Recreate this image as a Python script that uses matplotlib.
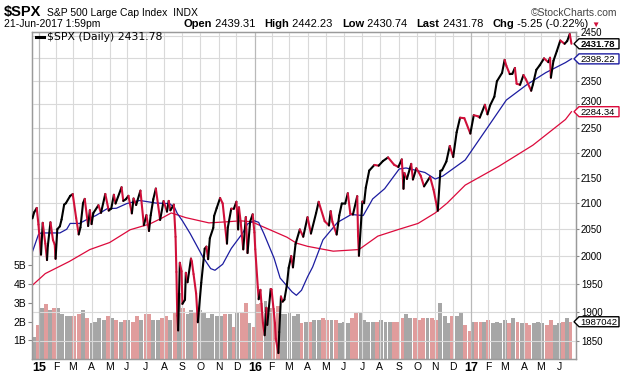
import numpy as np
import pandas as pd
import matplotlib
matplotlib.use("Agg")
import matplotlib.pyplot as plt
from matplotlib.collections import LineCollection
from matplotlib.patches import Polygon
from matplotlib.lines import Line2D
from matplotlib.transforms import IdentityTransform
from matplotlib.ticker import FixedLocator, NullLocator, FuncFormatter

plt.rcParams['font.family'] = ['Liberation Sans', 'DejaVu Sans']

# exchange holidays inside the window (for the trading-day axis)
holidays = ["2014-12-25", "2015-01-01", "2015-01-19", "2015-02-16", "2015-04-03",
            "2015-05-25", "2015-07-03", "2015-09-07", "2015-11-26", "2015-12-25",
            "2016-01-01", "2016-01-18", "2016-02-15", "2016-03-25", "2016-05-30",
            "2016-07-04", "2016-09-05", "2016-11-24", "2016-12-26", "2017-01-02",
            "2017-01-16", "2017-02-20", "2017-04-14", "2017-05-29"]

# $SPX closes (sampled a few times per week)
price_dates = [
    "2014-12-19", "2014-12-23", "2014-12-29", "2014-12-31", "2015-01-06", "2015-01-08",
    "2015-01-13", "2015-01-15", "2015-01-16", "2015-01-22", "2015-01-27", "2015-01-29",
    "2015-01-30", "2015-02-03", "2015-02-06", "2015-02-10", "2015-02-13", "2015-02-18",
    "2015-02-25", "2015-03-02", "2015-03-06", "2015-03-11", "2015-03-13", "2015-03-18",
    "2015-03-20", "2015-03-26", "2015-03-30", "2015-04-01", "2015-04-06", "2015-04-14",
    "2015-04-17", "2015-04-24", "2015-04-30", "2015-05-05", "2015-05-08", "2015-05-12",
    "2015-05-21", "2015-05-26", "2015-05-29", "2015-06-03", "2015-06-09", "2015-06-11",
    "2015-06-16", "2015-06-23", "2015-06-29", "2015-07-02", "2015-07-08", "2015-07-10",
    "2015-07-15", "2015-07-20", "2015-07-27", "2015-07-31", "2015-08-06", "2015-08-10",
    "2015-08-12", "2015-08-18", "2015-08-20", "2015-08-21", "2015-08-24", "2015-08-25",
    "2015-08-27", "2015-08-31", "2015-09-01", "2015-09-04", "2015-09-08", "2015-09-10",
    "2015-09-16", "2015-09-17", "2015-09-21", "2015-09-24", "2015-09-28", "2015-10-02",
    "2015-10-08", "2015-10-12", "2015-10-14", "2015-10-16", "2015-10-22", "2015-10-23",
    "2015-10-28", "2015-11-03", "2015-11-06", "2015-11-13", "2015-11-16", "2015-11-20",
    "2015-11-25", "2015-12-01", "2015-12-03", "2015-12-04", "2015-12-08", "2015-12-11",
    "2015-12-16", "2015-12-18", "2015-12-23", "2015-12-29", "2015-12-31", "2016-01-04",
    "2016-01-07", "2016-01-08", "2016-01-12", "2016-01-15", "2016-01-20", "2016-01-22",
    "2016-01-25", "2016-01-29", "2016-02-01", "2016-02-05", "2016-02-08", "2016-02-11",
    "2016-02-12", "2016-02-17", "2016-02-19", "2016-02-23", "2016-02-26", "2016-03-01",
    "2016-03-04", "2016-03-08", "2016-03-11", "2016-03-18", "2016-03-24", "2016-04-01",
    "2016-04-07", "2016-04-15", "2016-04-20", "2016-04-29", "2016-05-06", "2016-05-10",
    "2016-05-12", "2016-05-19", "2016-05-24", "2016-05-27", "2016-06-03", "2016-06-08",
    "2016-06-13", "2016-06-16", "2016-06-23", "2016-06-24", "2016-06-27", "2016-07-01",
    "2016-07-06", "2016-07-08", "2016-07-14", "2016-07-22", "2016-07-29", "2016-08-05",
    "2016-08-15", "2016-08-24", "2016-08-31", "2016-09-07", "2016-09-09", "2016-09-12",
    "2016-09-15", "2016-09-22", "2016-09-26", "2016-09-30", "2016-10-07", "2016-10-13",
    "2016-10-24", "2016-10-28", "2016-11-04", "2016-11-09", "2016-11-11", "2016-11-18",
    "2016-11-25", "2016-12-01", "2016-12-07", "2016-12-13", "2016-12-20", "2016-12-30",
    "2017-01-06", "2017-01-13", "2017-01-18", "2017-01-26", "2017-01-31", "2017-02-03",
    "2017-02-10", "2017-02-15", "2017-02-24", "2017-03-01", "2017-03-03", "2017-03-09",
    "2017-03-14", "2017-03-17", "2017-03-21", "2017-03-27", "2017-03-31", "2017-04-05",
    "2017-04-13", "2017-04-18", "2017-04-24", "2017-04-28", "2017-05-05", "2017-05-12",
    "2017-05-16", "2017-05-17", "2017-05-22", "2017-05-26", "2017-06-02", "2017-06-09",
    "2017-06-14", "2017-06-19", "2017-06-21"]
price_close = [
    2070.65, 2082.17, 2090.57, 2058.90, 2002.61, 2062.14,
    2023.03, 1992.67, 2019.42, 2063.15, 2029.55, 2021.25,
    1994.99, 2050.03, 2055.47, 2068.59, 2096.99, 2099.68,
    2113.86, 2117.39, 2071.26, 2040.24, 2053.40, 2099.50,
    2108.10, 2056.15, 2086.24, 2059.69, 2080.62, 2095.84,
    2081.18, 2117.69, 2085.51, 2089.46, 2116.10, 2099.12,
    2130.82, 2104.20, 2107.39, 2114.07, 2080.15, 2108.86,
    2096.29, 2124.20, 2057.64, 2076.78, 2046.68, 2076.62,
    2107.40, 2128.28, 2067.64, 2103.84, 2083.56, 2104.18,
    2086.05, 2096.92, 2035.73, 1970.89, 1893.21, 1867.61,
    1987.66, 1972.18, 1913.85, 1921.22, 1969.41, 1952.29,
    1995.31, 1990.20, 1966.97, 1932.24, 1881.77, 1951.36,
    2013.43, 2017.46, 1994.24, 2033.11, 2052.51, 2075.15,
    2090.35, 2109.79, 2099.20, 2023.04, 2053.19, 2089.17,
    2088.87, 2102.63, 2049.62, 2091.69, 2063.59, 2012.37,
    2073.07, 2005.55, 2064.29, 2078.36, 2043.94, 2012.66,
    1943.09, 1922.03, 1938.68, 1880.33, 1859.33, 1906.90,
    1877.08, 1940.24, 1939.38, 1880.05, 1853.44, 1829.08,
    1864.78, 1926.82, 1917.78, 1921.27, 1948.05, 1978.35,
    1999.99, 1979.26, 2022.19, 2049.58, 2035.94, 2072.78,
    2041.91, 2080.73, 2102.40, 2065.30, 2057.14, 2084.39,
    2064.11, 2040.04, 2076.06, 2099.06, 2099.13, 2119.12,
    2079.06, 2077.99, 2113.32, 2037.41, 2000.54, 2102.95,
    2099.73, 2129.90, 2163.75, 2175.03, 2173.60, 2182.87,
    2190.15, 2175.44, 2170.95, 2186.16, 2127.81, 2159.04,
    2147.26, 2177.18, 2146.10, 2168.27, 2153.74, 2132.55,
    2151.33, 2126.41, 2085.18, 2163.26, 2164.45, 2181.90,
    2213.35, 2191.08, 2241.35, 2271.72, 2270.76, 2238.83,
    2276.98, 2274.64, 2271.89, 2298.94, 2278.87, 2297.42,
    2316.10, 2349.25, 2367.34, 2395.96, 2383.12, 2364.87,
    2365.45, 2378.25, 2344.02, 2341.59, 2362.72, 2352.95,
    2328.95, 2342.19, 2374.15, 2384.20, 2399.29, 2390.90,
    2400.67, 2357.03, 2394.02, 2415.82, 2439.07, 2431.77,
    2437.92, 2453.46, 2431.78]

# 50-day moving average
ma50_dates = [
    "2014-12-19", "2014-12-31", "2015-01-06", "2015-02-06", "2015-02-19", "2015-02-25",
    "2015-03-12", "2015-03-24", "2015-04-09", "2015-04-28", "2015-05-13", "2015-06-01",
    "2015-06-22", "2015-07-02", "2015-07-20", "2015-08-11", "2015-08-19", "2015-08-24",
    "2015-09-01", "2015-09-15", "2015-10-06", "2015-10-19", "2015-10-26", "2015-11-06",
    "2015-11-20", "2015-12-10", "2015-12-18", "2015-12-31", "2016-01-08", "2016-01-19",
    "2016-02-04", "2016-02-16", "2016-03-07", "2016-03-14", "2016-03-22", "2016-04-01",
    "2016-04-11", "2016-04-27", "2016-05-20", "2016-06-14", "2016-07-05", "2016-07-15",
    "2016-07-20", "2016-08-09", "2016-09-01", "2016-09-14", "2016-10-14", "2016-11-01",
    "2016-11-14", "2016-12-21", "2017-01-27", "2017-03-03", "2017-04-06", "2017-05-09",
    "2017-06-12", "2017-06-21"]
ma50_vals = [
    2008, 2040, 2043, 2043, 2050, 2061,
    2061, 2068, 2076, 2089, 2090, 2099,
    2105, 2103, 2100, 2099, 2091, 2080,
    2066, 2042, 1998, 1977, 1974, 1985,
    2014, 2042, 2060, 2066, 2063, 2042,
    1996, 1960, 1935, 1929, 1938, 1962,
    1980, 2030, 2063, 2078, 2076, 2099,
    2108, 2128, 2167, 2169, 2160, 2147,
    2153, 2185, 2246, 2309, 2342, 2368,
    2390, 2398.22]

# 200-day moving average
ma200_dates = [
    "2014-12-19", "2015-01-13", "2015-02-24", "2015-03-30", "2015-05-01", "2015-06-05",
    "2015-07-09", "2015-07-30", "2015-08-13", "2015-09-08", "2015-10-15", "2015-11-12",
    "2015-12-08", "2015-12-28", "2016-01-19", "2016-02-26", "2016-03-14", "2016-04-01",
    "2016-05-13", "2016-06-27", "2016-07-28", "2016-09-01", "2016-10-04", "2016-11-01",
    "2016-11-21", "2016-12-21", "2017-02-17", "2017-04-18", "2017-06-12", "2017-06-21"]
ma200_vals = [
    1947, 1968, 1990, 2012, 2025, 2049,
    2060, 2072, 2081, 2072, 2062, 2064,
    2066, 2064, 2054, 2035, 2024, 2018,
    2009, 2012, 2037, 2050, 2061, 2081,
    2100, 2135, 2172, 2215, 2268, 2284.34]

# weekly volume (billions), one value per week ending Friday
vol_2014 = [3.6, 1.2]
vol_2015 = [1.8, 2.7, 2.9, 2.6, 2.7, 2.7, 2.4, 2.3, 2.3, 2.3, 2.4, 2.6, 2.2,
            1.9, 2.0, 2.2, 2.1, 2.3, 2.2, 2.1, 2.0, 2.1, 2.1, 2.0, 2.3, 2.1,
            2.4, 2.4, 2.1, 2.1, 2.2, 2.3, 2.1, 2.5, 3.5, 2.7, 2.4, 2.6, 2.5,
            2.6, 2.5, 2.2, 2.4, 2.3, 2.3, 2.4, 2.4, 1.7, 2.5, 2.5, 3.0, 1.9]
vol_2016 = [1.7, 2.9, 3.0, 3.1, 2.7, 2.7, 2.8, 2.4, 2.4, 2.5, 2.3, 2.4, 1.9,
            2.0, 2.0, 2.1, 2.1, 2.2, 2.1, 2.1, 2.1, 1.9, 2.0, 1.9, 2.2, 2.5,
            2.5, 2.1, 2.0, 2.0, 2.0, 2.1, 2.0, 2.0, 2.0, 2.0, 2.2, 2.4, 2.2,
            2.2, 2.1, 2.2, 2.2, 2.2, 2.1, 3.0, 2.3, 1.9, 2.3, 2.3, 2.5, 1.8, 1.5]
vol_2017 = [2.0, 2.0, 2.0, 2.0, 2.1, 1.9, 2.0, 1.9, 2.1, 1.9, 2.2, 2.0, 1.9,
            1.9, 1.8, 1.9, 2.0, 1.9, 1.8, 2.1, 1.8, 1.9, 2.0, 2.2, 2.0]
volume_b = vol_2014 + vol_2015 + vol_2016 + vol_2017

tdays = pd.bdate_range("2014-12-19", "2017-06-21", freq="C", holidays=holidays)

def pos(dates):
    return tdays.searchsorted(pd.to_datetime(dates))

RED = "#d0103a"
MA_RED = "#dc0a3c"
BLUE = "#1c1ca0"
GRID = "#d9d9d9"

W, H = 620, 376
fig = plt.figure(figsize=(W / 100, H / 100), dpi=100)
L, R, T, B = 32, 576, 32, 359.3
axv = fig.add_axes([L / W, (H - B) / H, (R - L) / W, (B - T) / H])
axp = axv.twinx()
axp.patch.set_visible(False)

# ---- volume ----
wk = tdays.to_period("W-FRI")
codes, weeks = pd.factorize(wk)
first = np.array([np.where(codes == k)[0][0] for k in range(len(weeks))])
last = np.array([np.where(codes == k)[0][-1] for k in range(len(weeks))])
s = pd.Series(price_close, index=pd.to_datetime(price_dates))
wclose = s.groupby(s.index.to_period("W-FRI")).last().reindex(weeks).ffill()
up = np.r_[True, np.diff(wclose.values) >= 0]
vcol = np.where(up, "#a6a6a6", "#e09c9c")
vol = np.array(volume_b) * 1e9
axv.bar(first - 0.5 + 0.2, vol, width=(last - first + 1) - 0.4, align="edge",
        color=vcol, linewidth=0, zorder=1)
axv.set_ylim(0, (B - T) / 18.9 * 1e9)
axv.set_yticks([1e9, 2e9, 3e9, 4e9, 5e9])
axv.set_yticklabels(["1B", "2B", "3B", "4B", "5B"])
axv.tick_params(axis="y", length=3, width=0.8, color="#888888", pad=1, labelsize=7.5)

# ---- price axis (log) ----
axp.set_yscale("log")
axp.set_ylim(1818.6, 2458.3)
levels = list(range(1850, 2451, 50))
# 2400 sits under the 50-day tag; 2450 and 2300 are written by hand a touch higher
shown = [lv for lv in levels if lv not in (2300, 2400, 2450)]
axp.yaxis.set_major_locator(FixedLocator(levels))
axp.yaxis.set_minor_locator(NullLocator())
axp.yaxis.set_major_formatter(FuncFormatter(lambda v, _: f"{v:.0f}" if v in shown else ""))
axp.tick_params(axis="y", length=2, width=0.8, color="#888888", pad=1.5, labelsize=7)

# grid
for lv in levels:
    axp.axhline(lv, color=GRID, lw=0.8, zorder=0.5)
mp = tdays.to_period("M")
mstart = np.where(mp[1:] != mp[:-1])[0] + 1
for i in mstart:
    yr = tdays[i].month == 1
    axp.axvline(i, color="#b9b9b9" if yr else GRID, lw=0.9 if yr else 0.8, zorder=0.5)

# moving averages
axp.plot(pos(ma200_dates), ma200_vals, color=MA_RED, lw=0.9, zorder=2)
axp.plot(pos(ma50_dates), ma50_vals, color=BLUE, lw=0.9, zorder=2)

# price line, black on up moves, red on down moves
px = pos(price_dates)
pc = np.array(price_close)
segs = [[(px[k], pc[k]), (px[k + 1], pc[k + 1])] for k in range(len(pc) - 1)]
cols = ["black" if pc[k + 1] >= pc[k] else RED for k in range(len(pc) - 1)]
axp.add_collection(LineCollection(segs, colors=cols, linewidths=1.5, zorder=3,
                                  capstyle="round", joinstyle="round"))

# x axis
axv.set_xlim(-0.52, 634.3)
axv.set_xticks(mstart)
labs = [tdays[i].strftime("%y") if tdays[i].month == 1 else tdays[i].strftime("%b")[0]
        for i in mstart]
axv.set_xticklabels(labs)
axv.tick_params(axis="x", length=0, pad=2, labelsize=7.5)
for t, i in zip(axv.get_xticklabels(), mstart):
    if tdays[i].month == 1:
        t.set_fontweight("bold")
        t.set_fontsize(9)

for ax in (axv, axp):
    for sp in ax.spines.values():
        sp.set_color("#9a9a9a")
        sp.set_linewidth(0.9)

# ---- header ----
renderer = fig.canvas.get_renderer()
ident = IdentityTransform()

def run_text(x, y, pieces):
    for txt, weight, size, color in pieces:
        t = fig.text(x, H - y, txt, fontsize=size, fontweight=weight, color=color,
                     transform=ident, va="baseline", ha="left")
        x += t.get_window_extent(renderer).width

run_text(4, 16, [(r"\$SPX", "bold", 10.5, "black"), ("  ", "normal", 7.5, "black"),
                 ("S&P 500 Large Cap Index  INDX", "normal", 7.5, "black")])
fig.text(617, H - 16, "©StockCharts.com", fontsize=7.5, color="#444444",
         transform=ident, ha="right", va="baseline")
fig.text(4, H - 27, "21-Jun-2017 1:59pm", fontsize=7.5, transform=ident, va="baseline")
run_text(183, 27, [("Open", "bold", 8, "black"), (" 2439.31   ", "normal", 8, "black"),
                   ("High", "bold", 8, "black"), (" 2442.23   ", "normal", 8, "black"),
                   ("Low", "bold", 8, "black"), (" 2430.74   ", "normal", 8, "black"),
                   ("Last", "bold", 8, "black"), (" 2431.78   ", "normal", 8, "black"),
                   ("Chg", "bold", 8, "black"), (" -5.25 (-0.22%) ", "normal", 8, "black"),
                   ("▼", "normal", 6, RED)])

# legend line inside plot
fig.add_artist(Line2D([36, 44], [H - 37, H - 37], color="black", lw=2.2, transform=ident))
fig.text(47, H - 37, r"\$SPX (Daily) 2431.78", fontsize=7.8, family="DejaVu Sans",
         transform=ident, va="center", ha="left")

# the two price labels that sit right against a tag
for lv in (2450, 2300):
    yl = axp.transData.transform((0, lv))[1]
    fig.text(580.5, yl + 2.5, str(lv), fontsize=7, transform=ident,
             va="center", ha="left")

# value tags on the right
def tag(ax, val, text, edge, bold=False):
    y = ax.transData.transform((0, val))[1]
    hh = 5
    poly = Polygon([(574, y), (579, y + hh), (619, y + hh), (619, y - hh), (579, y - hh)],
                   closed=True, facecolor="white", edgecolor=edge, lw=1.0,
                   transform=ident, zorder=10)
    fig.add_artist(poly)
    fig.text(580.5, y - 0.5, text, fontsize=6.8, fontweight="bold" if bold else "normal",
             transform=ident, va="center", ha="left", zorder=11)

tag(axp, 2431.78, "2431.78", "black", bold=True)
tag(axp, 2398.22, "2398.22", BLUE)
tag(axp, 2284.34, "2284.34", MA_RED)
tag(axv, 1.987042e9, "1987042", "black")

fig.savefig("out.png", dpi=100)
